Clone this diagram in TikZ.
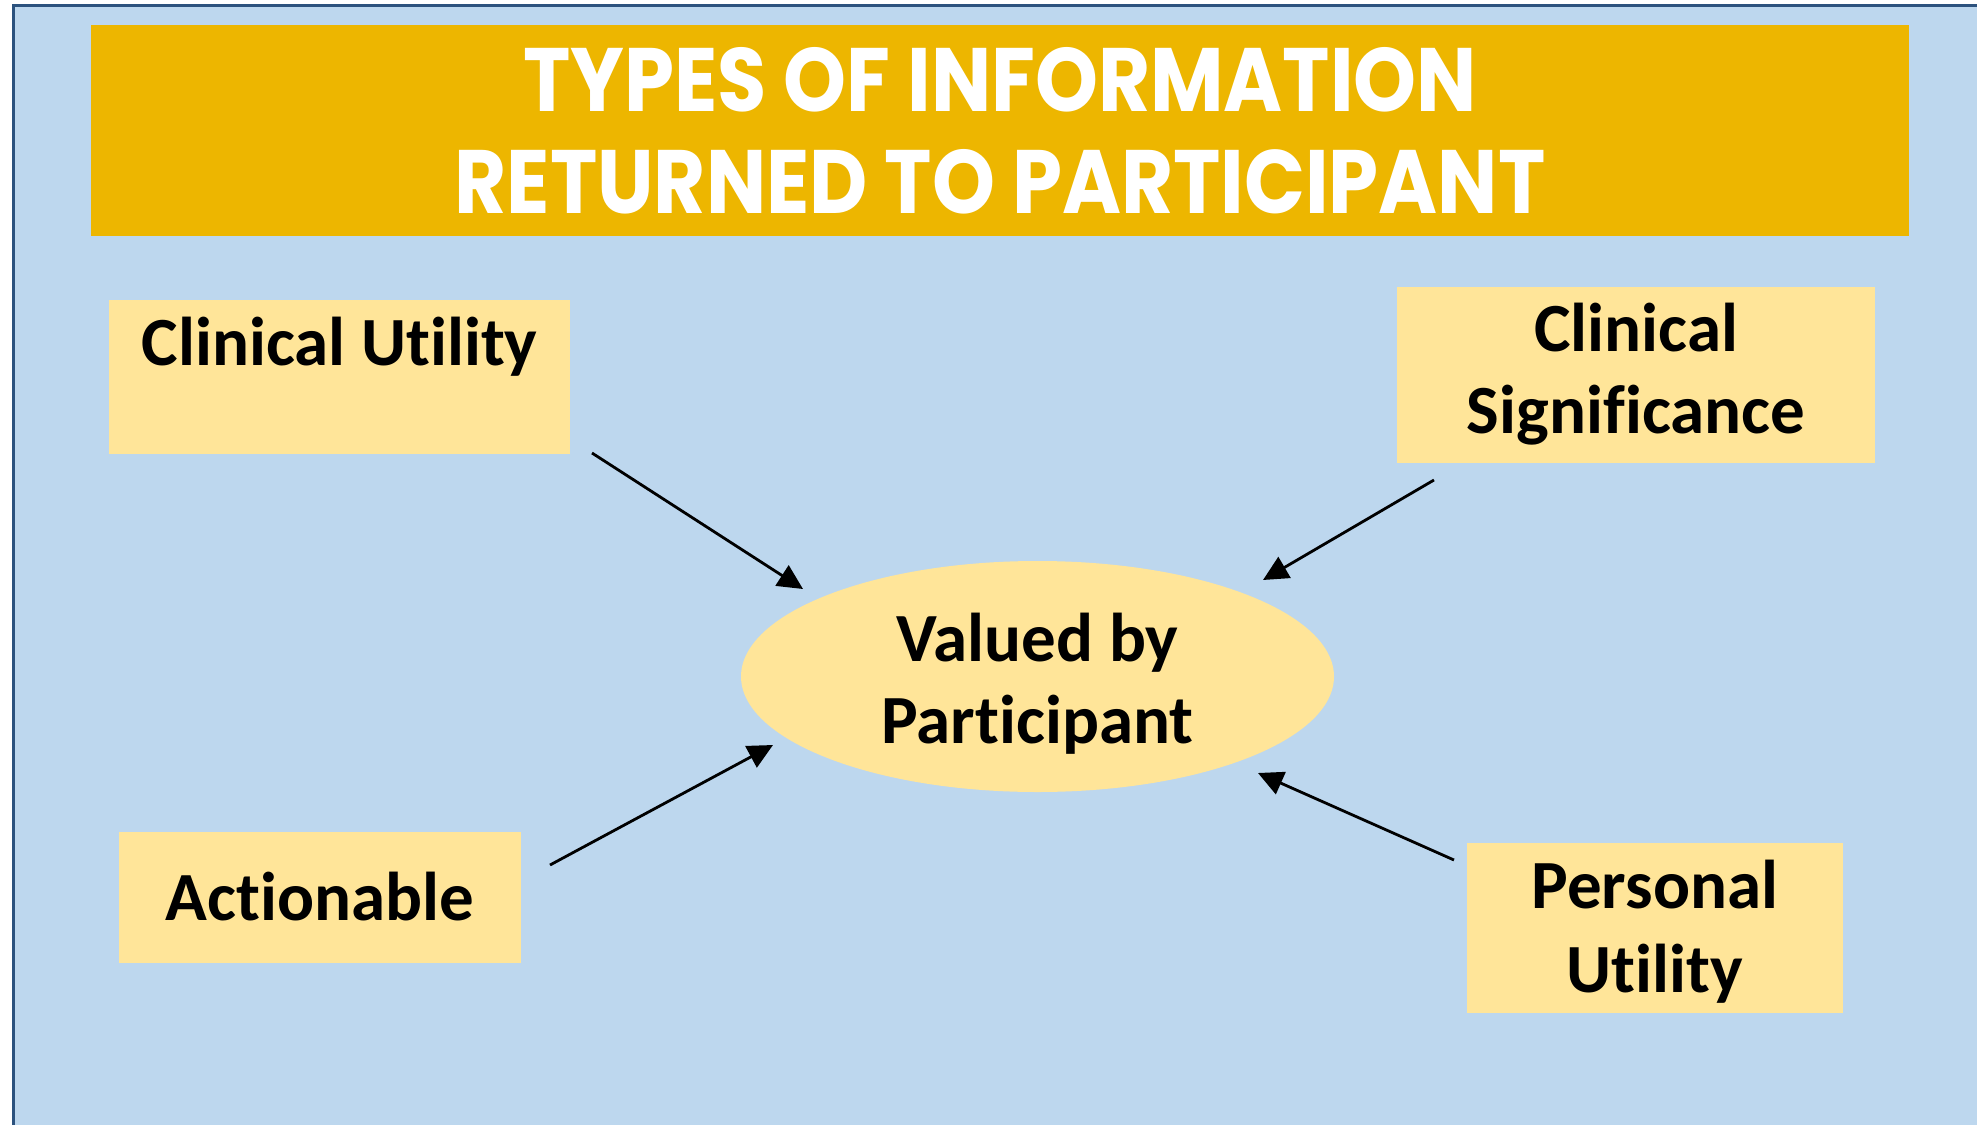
\documentclass[tikz,border=0pt]{standalone}
\usepackage{fontspec}
\setmainfont{Carlito}[Ligatures=NoCommon]
\newfontfamily\titlefont{Poppins}[FakeStretch=0.89]
\usetikzlibrary{positioning, shapes.geometric, arrows.meta}

\definecolor{skyblue}{RGB}{189,215,238}
\definecolor{frameblue}{RGB}{44,82,126}
\definecolor{gold}{RGB}{237,182,0}
\definecolor{paleyellow}{RGB}{255,229,153}

\tikzset{
  box/.style={fill=paleyellow, inner sep=0pt, align=center, anchor=base,
    font=\bfseries\fontsize{34.5}{41}\selectfont},
  banner/.style={fill=gold, inner sep=0pt, align=center, text=white,
    font=\titlefont\bfseries\fontsize{45}{51}\selectfont},
  link/.style={black, line width=1.4pt, ->}
}

\begin{document}
\begin{tikzpicture}[x=0.5pt, y=-0.5pt, >={Triangle[length=12.5pt, width=12pt]}]
  \useasboundingbox (0,0) rectangle (1977,1125);

  % panel with its frame on the left and top
  \fill[skyblue] (13,5) rectangle (1977,1125);
  \draw[frameblue, line width=1.5pt] (13,1125) -- (13,5) -- (1977,5);

  \draw (1000,130.5) node[banner, minimum width=909pt, minimum height=105.5pt] (title)
    {TYPES OF INFORMATION\\RETURNED TO PARTICIPANT};

  % boxes sit on the baseline of their last line
  \draw (339.5,365) node[box, minimum width=230.5pt,
    text height=32.5pt, text depth=44.5pt] (cu) {Clinical Utility};
  \draw (1636,433) node[box, minimum width=239pt,
    text height=73pt, text depth=15pt] (cs) {Clinical\\Significance};
  \draw (320,920) node[box, minimum width=201pt,
    text height=44pt, text depth=21.5pt] (ac) {Actionable};
  \draw (1655,992) node[box, minimum width=188pt,
    text height=74.5pt, text depth=10.5pt,
    font=\bfseries\fontsize{34.5}{42}\selectfont] (pu) {Personal\\Utility};

  \draw (1037.5,743) node[box, ellipse, minimum width=296.5pt,
    minimum height=115.5pt, text height=68.25pt, text depth=1.75pt] (val)
    {Valued by\\Participant};

  % arrow ends, kept clear of the shapes
  \coordinate (cu-tail) at (592,453);   \coordinate (val-nw) at (803,589);
  \coordinate (cs-tail) at (1434,480);  \coordinate (val-ne) at (1263,580);
  \coordinate (ac-tail) at (550,865);   \coordinate (val-sw) at (773,745);
  \coordinate (pu-tail) at (1454,860);  \coordinate (val-se) at (1258,773);

  \draw[link] (cu-tail) -- (val-nw);
  \draw[link] (cs-tail) -- (val-ne);
  \draw[link] (ac-tail) -- (val-sw);
  \draw[link] (pu-tail) -- (val-se);

\end{tikzpicture}
\end{document}
